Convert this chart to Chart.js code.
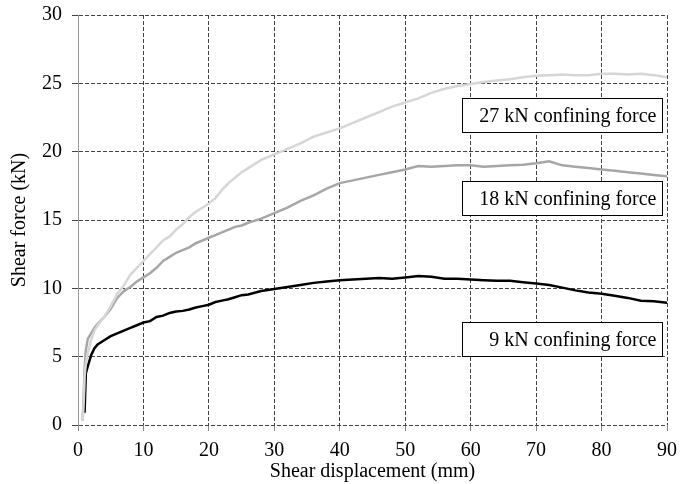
<!DOCTYPE html>
<html>
<head>
<meta charset="utf-8">
<script src="https://cdn.jsdelivr.net/npm/chart.js@4.4.0/dist/chart.umd.min.js"></script>
<style>
  html, body { margin: 0; padding: 0; background: #fff; }
  #wrap { width: 693px; height: 484px; }
</style>
</head>
<body>
<div id="wrap"><canvas id="shearChart"></canvas></div>
<script>
// shear displacement (mm)
const displacement = [0.7, 0.9, 1.0, 1.2, 1.5, 2, 2.5, 3, 4, 5, 6, 7, 8, 9, 10, 11, 12, 13, 14, 15, 16, 17, 18, 19, 20,
  21, 22, 23, 24, 25, 26, 28, 30, 32, 34, 36, 38, 40, 42, 44, 46, 48, 50, 52, 54, 56, 58, 60,
  62, 64, 66, 68, 70, 72, 74, 76, 78, 80, 82, 84, 86, 88, 90];

// shear force (kN)
const force27 = [0.3, 2.0, 3.5, 4.5, 5.3, 6.2, 6.9, 7.3, 7.9, 8.7, 9.6, 10.2, 11.0, 11.5, 12.0, 12.5, 13.0, 13.5, 13.8, 14.3, 14.7, 15.2, 15.6, 15.9, 16.2,
  16.6, 17.2, 17.7, 18.1, 18.5, 18.8, 19.4, 19.8, 20.2, 20.6, 21.1, 21.4, 21.7, 22.1, 22.5, 22.9, 23.3, 23.6, 23.9, 24.3, 24.6, 24.8, 24.95,
  25.1, 25.2, 25.3, 25.45, 25.55, 25.6, 25.65, 25.6, 25.6, 25.7, 25.7, 25.65, 25.7, 25.6, 25.45];

const force18 = [0.3, 2.5, 4.0, 5.5, 6.3, 6.7, 7.1, 7.4, 7.9, 8.5, 9.3, 9.8, 10.1, 10.5, 10.8, 11.1, 11.5, 12.0, 12.3, 12.6, 12.8, 13.0, 13.3, 13.5, 13.7,
  13.9, 14.1, 14.3, 14.5, 14.6, 14.8, 15.1, 15.5, 15.9, 16.4, 16.8, 17.3, 17.7, 17.9, 18.1, 18.3, 18.5, 18.7, 18.95, 18.9, 18.95, 19.0, 19.0,
  18.9, 18.95, 19.0, 19.05, 19.15, 19.3, 19.0, 18.9, 18.8, 18.7, 18.6, 18.5, 18.4, 18.3, 18.2];

const force9 = [null, null, 0.9, 3.8, 4.3, 5.1, 5.6, 5.9, 6.2, 6.5, 6.7, 6.9, 7.1, 7.3, 7.5, 7.6, 7.9, 8.0, 8.2, 8.3, 8.35, 8.45, 8.6, 8.7, 8.8,
  9.0, 9.1, 9.2, 9.35, 9.5, 9.55, 9.8, 9.95, 10.1, 10.25, 10.4, 10.5, 10.6, 10.65, 10.7, 10.75, 10.7, 10.8, 10.9, 10.85, 10.7, 10.7, 10.65,
  10.6, 10.55, 10.55, 10.45, 10.35, 10.25, 10.05, 9.85, 9.7, 9.6, 9.45, 9.3, 9.1, 9.05, 8.95];

const seriesNames = ['27 kN confining force', '18 kN confining force', '9 kN confining force'];

const xTicks = [0, 10, 20, 30, 40, 50, 60, 70, 80, 90];
const yTicks = [0, 5, 10, 15, 20, 25, 30];

const FONT = '"Liberation Serif", "Times New Roman", serif';

const toPoints = (ys) => displacement.map((x, i) => ({ x: x, y: ys[i] }));

// boxed labels next to each curve (left / top in data units)
const boxLabels = {
  id: 'boxLabels',
  afterDatasetsDraw(chart, args, opts) {
    const ctx = chart.ctx;
    const xs = chart.scales.x, ys = chart.scales.y;
    ctx.save();
    ctx.font = '20px ' + FONT;
    ctx.textAlign = 'right';
    ctx.textBaseline = 'middle';
    opts.items.forEach((it, i) => {
      const left = Math.round(xs.getPixelForValue(it.x)) + 0.5;
      const top = Math.round(ys.getPixelForValue(it.y)) + 0.5;
      ctx.fillStyle = '#fff';
      ctx.fillRect(left, top, opts.width, opts.height);
      ctx.strokeStyle = '#000';
      ctx.lineWidth = 1;
      ctx.strokeRect(left, top, opts.width, opts.height);
      ctx.fillStyle = '#000';
      ctx.fillText(seriesNames[i], left + opts.width - 6, top + opts.height / 2 + 1);
    });
    ctx.restore();
  }
};

const makeDataset = (label, ys, color) => ({
  label: label,
  data: toPoints(ys),
  borderColor: color,
  backgroundColor: color,
  borderWidth: 2.5,
  pointRadius: 0,
  tension: 0,
  spanGaps: false
});

new Chart('shearChart', {
  type: 'line',
  data: {
    datasets: [
      makeDataset(seriesNames[0], force27, '#d6d6d6'),
      makeDataset(seriesNames[1], force18, '#a6a6a6'),
      makeDataset(seriesNames[2], force9, '#000000')
    ]
  },
  options: {
    responsive: true,
    maintainAspectRatio: false,
    animation: false,
    layout: { padding: { left: 4, right: 26, top: 5, bottom: 0 } },
    plugins: {
      legend: { display: false },
      tooltip: { enabled: false },
      boxLabels: {
        width: 200,
        height: 34,
        items: [
          { x: 58.75, y: 23.9 },
          { x: 58.75, y: 17.85 },
          { x: 58.75, y: 7.55 }
        ]
      }
    },
    scales: {
      x: {
        type: 'linear',
        min: 0,
        max: 90,
        afterBuildTicks: (axis) => { axis.ticks = xTicks.map(v => ({ value: v })); },
        ticks: { color: '#000', font: { family: FONT, size: 20 }, padding: 8, maxRotation: 0 },
        grid: {
          color: (c) => (c.tick && c.tick.value === 0) ? 'rgba(0,0,0,0)' : '#444',
          lineWidth: 1,
          tickLength: 6,
          tickColor: '#888',
          tickBorderDash: []
        },
        border: { display: false, dash: [4, 2] },
        title: {
          display: true,
          text: 'Shear displacement (mm)',
          color: '#000',
          font: { family: FONT, size: 20 },
          padding: { top: -11, bottom: 0 }
        }
      },
      y: {
        min: 0,
        max: 30,
        afterBuildTicks: (axis) => { axis.ticks = yTicks.map(v => ({ value: v })); },
        ticks: { color: '#000', font: { family: FONT, size: 20, lineHeight: 0.5 }, padding: 10 },
        grid: {
          color: '#444',
          lineWidth: 1,
          tickLength: 6,
          tickColor: '#444'
        },
        border: { display: true, color: '#999', width: 1, dash: [4, 2] },
        title: {
          display: true,
          text: 'Shear force (kN)',
          color: '#000',
          font: { family: FONT, size: 20 },
          padding: { top: 4, bottom: 0 }
        }
      }
    }
  },
  plugins: [boxLabels]
});
</script>
</body>
</html>
